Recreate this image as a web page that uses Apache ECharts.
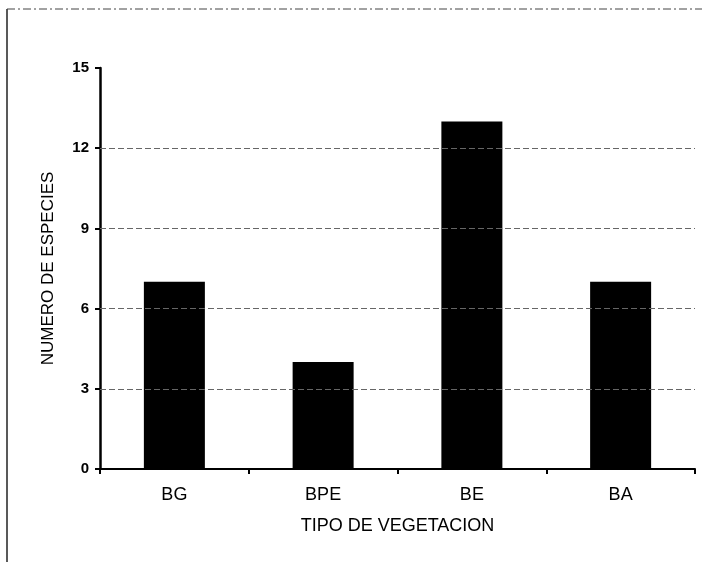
<!DOCTYPE html>
<html>
<head>
<meta charset="utf-8">
<script src="https://cdn.jsdelivr.net/npm/echarts@6/dist/echarts.min.js"></script>
<style>
  html, body { margin: 0; padding: 0; background: #fff; }
  #chart { width: 702px; height: 562px; }
</style>
</head>
<body>
<div id="chart"></div>
<script>
var categorias = ['BG', 'BPE', 'BE', 'BA'];
var especies = [7, 4, 13, 7];
var yTicks = [0, 3, 6, 9, 12, 15];
var lineasGuia = [3, 6, 9, 12];   // sin linea en 15

var chart = echarts.init(document.getElementById('chart'));

var option = {
    animation: false,
    backgroundColor: '#fff',
    textStyle: { fontFamily: 'Liberation Sans, Arial, sans-serif' },
    grid: { left: 100, right: 7, top: 68, bottom: 93 },
    // marco del recuadro escaneado
    graphic: [
        { type: 'line', shape: { x1: 7, y1: 9, x2: 7, y2: 562 }, style: { stroke: '#222', lineWidth: 1.5 } },
        { type: 'line', shape: { x1: 7, y1: 9, x2: 702, y2: 9 }, style: { stroke: '#444', lineWidth: 1, lineDash: [8, 3, 2, 3] } }
    ],
    xAxis: {
        type: 'category',
        data: categorias,
        name: 'TIPO DE VEGETACION',
        nameLocation: 'middle',
        nameGap: 48,
        nameTextStyle: { fontSize: 18, color: '#000' },
        axisLine: { lineStyle: { color: '#000', width: 2 } },
        axisTick: { show: true, alignWithLabel: false, length: 5, lineStyle: { color: '#000', width: 2 } },
        axisLabel: { fontSize: 18, color: '#000', margin: 17 }
    },
    yAxis: {
        type: 'value',
        min: yTicks[0],
        max: yTicks[yTicks.length - 1],
        interval: 3,
        name: 'NUMERO DE ESPECIES',
        nameLocation: 'middle',
        nameGap: 43,
        nameRotate: 90,
        nameTextStyle: { fontSize: 17, color: '#000' },
        axisLine: { show: true, lineStyle: { color: '#000', width: 2.5 } },
        axisTick: { show: true, length: 5, lineStyle: { color: '#000', width: 2 } },
        axisLabel: { fontSize: 15, fontWeight: 'bold', color: '#000', margin: 11 },
        splitLine: { show: false }
    },
    series: [
        {
            // serie vacia solo para las lineas guia, detras de las barras
            name: 'guias',
            type: 'line',
            z: 1,
            silent: true,
            data: [],
            markLine: {
                silent: true,
                symbol: 'none',
                label: { show: false },
                lineStyle: { color: '#666', width: 1, type: [6, 3] },
                data: lineasGuia.map(function (v) { return { yAxis: v }; })
            }
        },
        {
            name: 'Especies',
            type: 'bar',
            z: 3,
            data: especies,
            barWidth: 61,
            itemStyle: { color: '#000' }
        }
    ]
};

chart.setOption(option);
</script>
</body>
</html>
